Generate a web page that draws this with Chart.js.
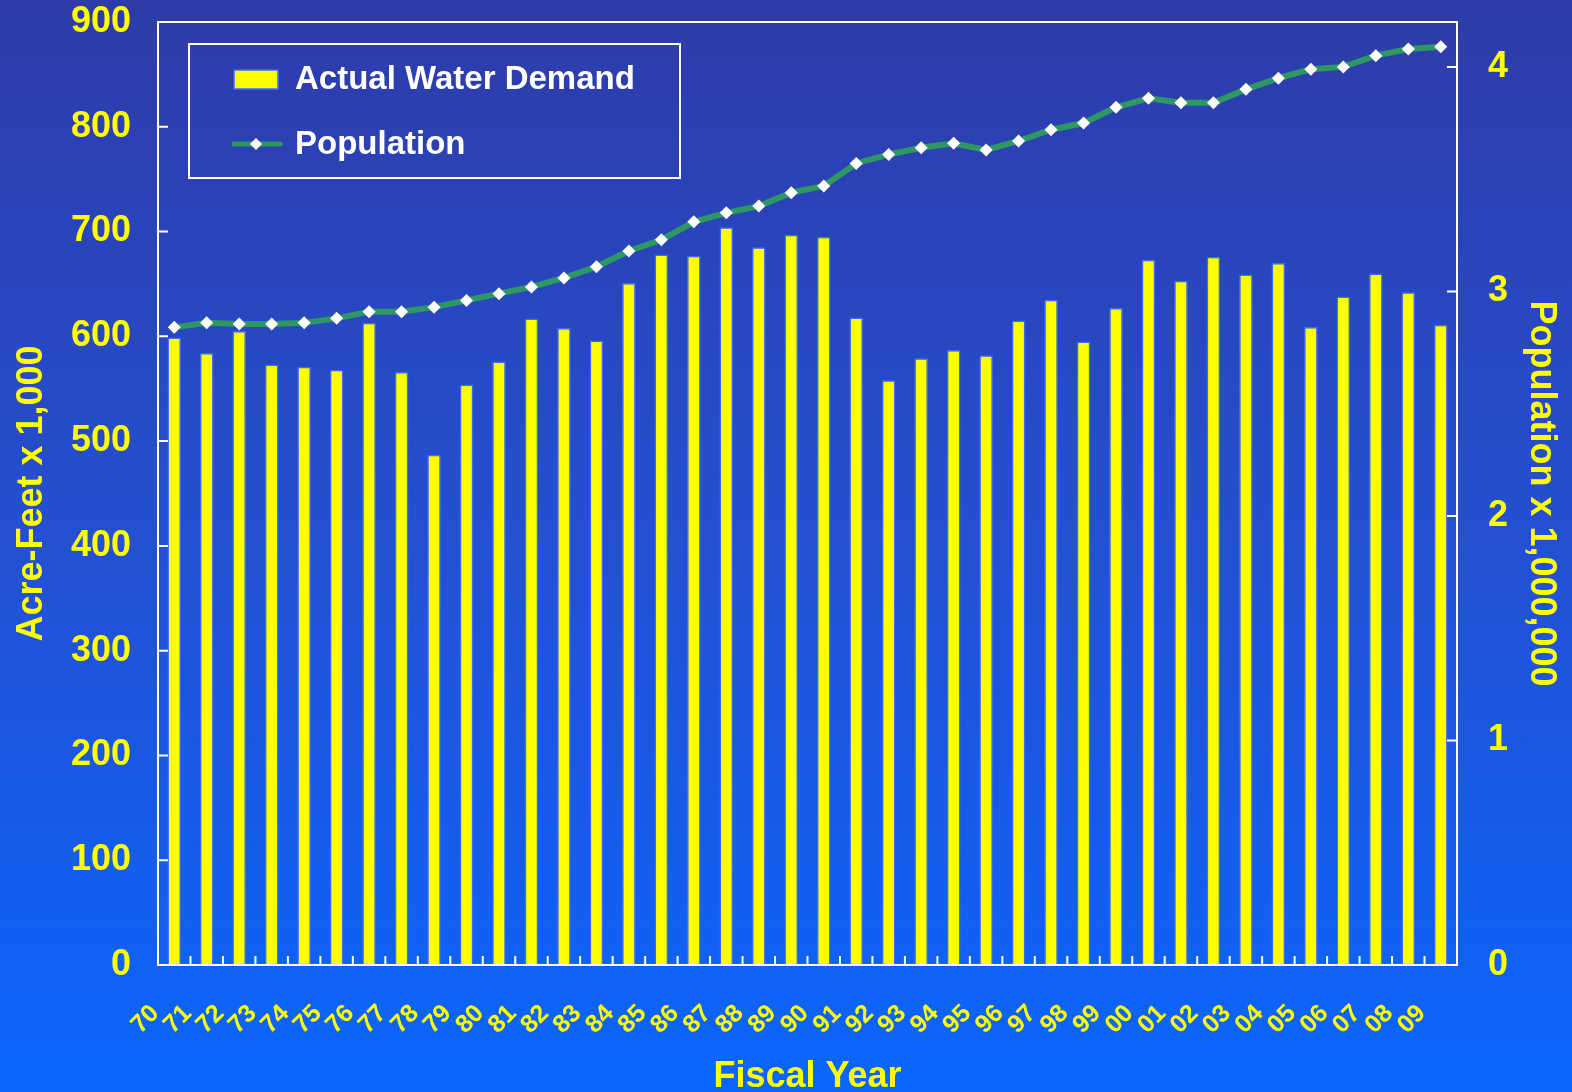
<!DOCTYPE html>
<html>
<head>
<meta charset="utf-8">
<script src="https://cdn.jsdelivr.net/npm/chart.js@4.4.1/dist/chart.umd.min.js"></script>
<style>
  html, body { margin: 0; padding: 0; }
  body { width: 1572px; height: 1092px; background: linear-gradient(to bottom, #2e3ba8 0%, #2450d2 50%, #0a66ff 100%); overflow: hidden; }
  canvas { display: block; }
</style>
</head>
<body>
<canvas id="myChart" width="1572" height="1092"></canvas>
<script>
var years = ['70','71','72','73','74','75','76','77','78','79','80','81','82','83','84','85','86','87','88','89',
             '90','91','92','93','94','95','96','97','98','99','00','01','02','03','04','05','06','07','08','09'];
var waterDemand = [599, 584, 605, 573, 571, 568, 613, 566, 487, 554, 576, 617, 608, 596, 651, 678, 677, 704, 685, 697,
                   695, 618, 558, 579, 587, 582, 615, 635, 595, 627, 673, 653, 676, 659, 670, 609, 638, 660, 642, 611];
var population = [2.84, 2.86, 2.855, 2.855, 2.86, 2.88, 2.91, 2.91, 2.93, 2.96, 2.99, 3.02, 3.06, 3.11, 3.18, 3.23, 3.31, 3.35, 3.38, 3.44,
                  3.47, 3.57, 3.61, 3.64, 3.66, 3.63, 3.67, 3.72, 3.75, 3.82, 3.86, 3.84, 3.84, 3.90, 3.95, 3.99, 4.00, 4.05, 4.08, 4.09];

var yellow = '#ffff00';
var green = '#2e9862';
var barEdge = '#3a6cff';
var font = "'Liberation Sans', Arial, sans-serif";

// inward tick marks, plot border and boxed legend
var framePlugin = {
  id: 'frame',
  afterDraw: function(chart) {
    var c = chart.ctx, a = chart.chartArea;
    c.save();
    c.strokeStyle = '#ffffff';
    c.lineWidth = 2;
    c.strokeRect(a.left, a.top, a.right - a.left, a.bottom - a.top);
    var y = chart.scales.y, y1 = chart.scales.y1;
    c.beginPath();
    y.ticks.forEach(function(t) {
      var p = y.getPixelForValue(t.value);
      c.moveTo(a.left, p); c.lineTo(a.left + 10, p);
    });
    y1.ticks.forEach(function(t) {
      var p = y1.getPixelForValue(t.value);
      c.moveTo(a.right, p); c.lineTo(a.right - 10, p);
    });
    var w = (a.right - a.left) / years.length;
    for (var i = 1; i < years.length; i++) {
      var px = a.left + i * w;
      c.moveTo(px, a.bottom); c.lineTo(px, a.bottom - 9);
    }
    c.stroke();

    // legend
    c.strokeRect(189, 44, 491, 134);
    c.fillStyle = yellow;
    c.fillRect(234, 70, 44, 19);
    c.strokeStyle = barEdge;
    c.lineWidth = 1.5;
    c.strokeRect(234, 70, 44, 19);
    c.strokeStyle = green;
    c.lineWidth = 5;
    c.lineCap = 'round';
    c.beginPath(); c.moveTo(234, 144); c.lineTo(280, 144); c.stroke();
    c.fillStyle = '#ffffff';
    c.beginPath();
    c.moveTo(256, 138); c.lineTo(262, 144); c.lineTo(256, 150); c.lineTo(250, 144); c.closePath();
    c.fill();
    c.font = 'bold 33px ' + font;
    c.textBaseline = 'middle';
    c.fillText('Actual Water Demand', 295, 80);
    c.fillText('Population', 295, 145);
    c.restore();
  }
};

function fixPad(s, w) {
  s.width = w;
  s.paddingTop = 22;
  s.paddingBottom = 0;
}

var ctx = document.getElementById('myChart').getContext('2d');
var myChart = new Chart(ctx, {
  type: 'bar',
  data: {
    labels: years,
    datasets: [{
      type: 'line',
      label: 'Population',
      data: population,
      yAxisID: 'y1',
      borderColor: green,
      borderWidth: 6,
      pointStyle: 'rectRot',
      pointRadius: 6.5,
      pointBackgroundColor: '#ffffff',
      pointBorderColor: '#ffffff',
      pointBorderWidth: 0,
      tension: 0,
      order: 0
    }, {
      label: 'Actual Water Demand',
      data: waterDemand,
      yAxisID: 'y',
      backgroundColor: yellow,
      borderColor: barEdge,
      borderWidth: 1.5,
      barPercentage: 0.42,
      categoryPercentage: 1,
      order: 1
    }]
  },
  options: {
    responsive: false,
    animation: false,
    layout: { padding: { top: 0, right: 0, left: 0, bottom: 0 } },
    plugins: {
      legend: { display: false },
      tooltip: { enabled: false }
    },
    scales: {
      x: {
        offset: true,
        grid: { display: false, drawTicks: false },
        border: { display: false },
        ticks: {
          color: yellow,
          font: { family: font, size: 25, weight: 'bold' },
          minRotation: 45,
          maxRotation: 45,
          autoSkip: false,
          padding: 34,
          labelOffset: -19
        },
        title: {
          display: true,
          text: 'Fiscal Year',
          color: yellow,
          font: { family: font, size: 36, weight: 'bold' },
          padding: { top: 0, bottom: -7 }
        },
        afterFit: function(s) { s.height = 127; }
      },
      y: {
        position: 'left',
        min: 0,
        max: 900,
        ticks: {
          stepSize: 100,
          color: yellow,
          font: { family: font, size: 36, weight: 'bold' },
          padding: 27
        },
        grid: { display: false, drawTicks: false },
        border: { display: false },
        title: {
          display: true,
          text: 'Acre-Feet x 1,000',
          color: yellow,
          font: { family: font, size: 36, weight: 'bold' },
          padding: { top: 10, bottom: 0 }
        },
        afterFit: function(s) { fixPad(s, 158); }
      },
      y1: {
        position: 'right',
        min: 0,
        max: 4.2,
        ticks: {
          stepSize: 1,
          color: yellow,
          font: { family: font, size: 36, weight: 'bold' },
          padding: 31
        },
        afterBuildTicks: function(s) {
          s.ticks = s.ticks.filter(function(t) { return Number.isInteger(t.value); });
        },
        grid: { display: false, drawTicks: false },
        border: { display: false },
        title: {
          display: true,
          text: 'Population x 1,000,000',
          color: yellow,
          font: { family: font, size: 36, weight: 'bold' },
          padding: { top: 9, bottom: 0 }
        },
        afterFit: function(s) { fixPad(s, 115); }
      }
    }
  },
  plugins: [framePlugin]
});
</script>
</body>
</html>
